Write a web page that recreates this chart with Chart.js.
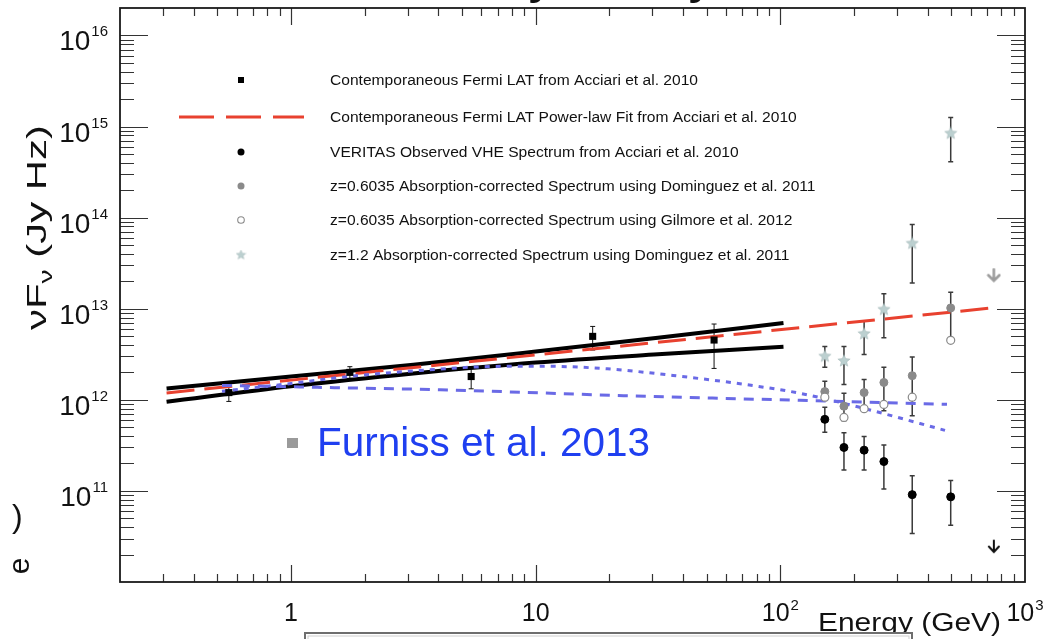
<!DOCTYPE html>
<html><head><meta charset="utf-8">
<script src="https://cdn.jsdelivr.net/npm/chart.js@4.4.1/dist/chart.umd.min.js"></script>
<style>html,body{margin:0;padding:0;background:#fff;overflow:hidden}canvas{display:block}</style>
</head><body><canvas id="c" width="1047" height="639"></canvas>
<script>
// ---------------- data ----------------
const fermiE  = [0.557, 1.74, 5.45, 17.1, 53.6];
const fermiF  = [1.20e12, 2.00e12, 1.80e12, 4.97e12, 4.53e12];
const fermiLo = [9.6e11, 1.72e12, 1.32e12, 3.52e12, 2.21e12];
const fermiHi = [1.46e12, 2.31e12, 2.28e12, 6.39e12, 6.79e12];

const fitE = [0.31, 730];
const fitF = [1.19e12, 1.02e13];

const bowE   = [0.31, 1, 3.16, 10, 31.6, 103];
const bowUpF = [1.33e12, 1.80e12, 2.43e12, 3.39e12, 4.79e12, 6.97e12];
const bowLoF = [9.51e11, 1.41e12, 1.95e12, 2.57e12, 3.16e12, 3.82e12];

const blueDotE = [0.522, 1, 1.74, 3.37, 5.92, 10.4, 19.6, 36.4, 68.4, 120, 211, 471];
const blueDotF = [1.24e12, 1.51e12, 1.81e12, 2.10e12, 2.30e12, 2.34e12, 2.19e12, 1.85e12, 1.50e12, 1.18e12, 8.27e11, 4.62e11];
const blueDashE = [0.522, 1, 1.74, 4.06, 20.7, 120, 480];
const blueDashF = [1.44e12, 1.39e12, 1.35e12, 1.29e12, 1.12e12, 9.86e11, 8.91e11];

const vheE = [152, 182, 220, 265, 346, 497];
const verF  = [6.1e11, 3.0e11, 2.8e11, 2.1e11, 9.1e10, 8.6e10];
const verLo = [4.4e11, 1.7e11, 1.7e11, 1.05e11, 3.4e10, 4.2e10];
const verHi = [8.3e11, 4.35e11, 3.95e11, 3.2e11, 1.47e11, 1.3e11];
const domF  = [1.23e12, 8.5e11, 1.2e12, 1.55e12, 1.84e12, 1.02e13];
const domLo = [9.8e11, 5.9e11, 8.0e11, 7.6e11, 6.7e11, 4.5e12];
const domHi = [1.6e12, 1.18e12, 1.67e12, 2.28e12, 2.95e12, 1.52e13];
const gilF  = [1.07e12, 6.4e11, 8.0e11, 8.9e11, 1.07e12, 4.5e12];
const z12F  = [3.0e12, 2.67e12, 5.3e12, 9.8e12, 5.2e13, 8.4e14];
const z12Lo = [2.28e12, 1.47e12, 3.15e12, 4.8e12, 1.92e13, 4.1e14];
const z12Hi = [3.85e12, 3.85e12, 7.3e12, 1.46e13, 8.4e13, 1.26e15];
const ulE = [746];
const ulVerF = [2.45e10];
const ulDomF = [2.33e13];

const yTickExps = [11, 12, 13, 14, 15, 16];
const xTickLabels = [{v:1, b:'1', e:''}, {v:10, b:'10', e:''}, {v:100, b:'10', e:'2'}, {v:1000, b:'10', e:'3'}];
const legendRows = [
  'Contemporaneous Fermi LAT from Acciari et al. 2010',
  'Contemporaneous Fermi LAT Power-law Fit from Acciari et al. 2010',
  'VERITAS Observed VHE Spectrum from Acciari et al. 2010',
  'z=0.6035 Absorption-corrected Spectrum using Dominguez et al. 2011',
  'z=0.6035 Absorption-corrected Spectrum using Gilmore et al. 2012',
  'z=1.2 Absorption-corrected Spectrum using Dominguez et al. 2011'
];

// ---------------- styles ----------------
const FONT = '"Liberation Sans", Arial, Helvetica, sans-serif';
const RED = '#e8412f', BLUE = '#6a6ae6', GRAY = '#8a8a8a', STAR = '#bcd0d0';

function pts(xs, ys){ return xs.map((x,i)=>({x:x, y:ys[i]})); }

function makeStar(size, color){
  const c = document.createElement('canvas'); c.width = size; c.height = size;
  const g = c.getContext('2d'); const r = size/2, ri = r*0.42;
  g.beginPath();
  for(let k=0;k<10;k++){
    const a = -Math.PI/2 + k*Math.PI/5, rr = (k%2===0)? r-0.5 : ri;
    g.lineTo(r + rr*Math.cos(a), r + rr*Math.sin(a));
  }
  g.closePath(); g.fillStyle = color; g.fill();
  g.strokeStyle = 'rgba(150,170,170,0.6)'; g.lineWidth = 0.6; g.stroke();
  return c;
}
function makeArrow(w, h, color, lw){
  const c = document.createElement('canvas'); c.width = w; c.height = h;
  const g = c.getContext('2d'); g.strokeStyle = color; g.lineWidth = lw; g.lineCap = 'round';
  g.beginPath(); g.moveTo(w/2, 1.5); g.lineTo(w/2, h-2);
  g.moveTo(2, h*0.5); g.lineTo(w/2, h-2); g.lineTo(w-2, h*0.5); g.stroke();
  return c;
}
const starImg = makeStar(14, STAR);
const arrowBlack = makeArrow(14, 15, '#111', 2);
const arrowGray = makeArrow(15, 15, '#9c9c9c', 2.6);

// ---------------- plugins ----------------
const errPlugin = {
  id: 'errbars',
  beforeDatasetsDraw(chart){
    const ctx = chart.ctx, xs = chart.scales.x, ys = chart.scales.y;
    chart.data.datasets.forEach(ds => {
      if(!ds.errLo) return;
      ctx.save(); ctx.strokeStyle = ds.errColor; ctx.lineWidth = ds.errWidth;
      ds.data.forEach((p,i) => {
        const px = xs.getPixelForValue(p.x);
        const y1 = ys.getPixelForValue(ds.errLo[i]), y2 = ys.getPixelForValue(ds.errHi[i]);
        ctx.beginPath();
        ctx.moveTo(px, y1); ctx.lineTo(px, y2);
        ctx.moveTo(px-ds.capW, y1); ctx.lineTo(px+ds.capW, y1);
        ctx.moveTo(px-ds.capW, y2); ctx.lineTo(px+ds.capW, y2);
        ctx.stroke();
      });
      ctx.restore();
    });
  }
};

function fitText(ctx, txt, x, y, font, color, width, align){
  ctx.save(); ctx.font = font; ctx.fillStyle = color; ctx.textBaseline = 'alphabetic';
  const w = ctx.measureText(txt).width; const s = width ? width / w : 1;
  let x0 = x; if(align === 'center') x0 = x - w*s/2; else if(align === 'right') x0 = x - w*s;
  ctx.translate(x0, y); ctx.scale(s, 1); ctx.textAlign = 'left'; ctx.fillText(txt, 0, 0); ctx.restore();
}
function powLabel(ctx, b, e, x, y, bs, es, raise, align){
  ctx.save(); ctx.fillStyle = '#111'; ctx.textBaseline = 'alphabetic'; ctx.textAlign = 'left';
  ctx.font = bs + 'px ' + FONT; const wb = ctx.measureText(b).width;
  ctx.font = es + 'px ' + FONT; const we = e ? ctx.measureText(e).width + 1 : 0;
  const tot = wb + we;
  let x0 = align === 'right' ? x - tot : x - tot/2;
  ctx.font = bs + 'px ' + FONT; ctx.fillText(b, x0, y);
  if(e){ ctx.font = es + 'px ' + FONT; ctx.fillText(e, x0 + wb + 1, y - raise); }
  ctx.restore();
}

const framePlugin = {
  id: 'frame',
  afterDraw(chart){
    const ctx = chart.ctx, xs = chart.scales.x, ys = chart.scales.y;
    const {left, right, top, bottom} = chart.chartArea;
    ctx.save();
    ctx.strokeStyle = '#333'; ctx.lineWidth = 1.2;
    ctx.beginPath();
    for(let d=10; d<=16; d++){
      for(let m=1; m<=9; m++){
        const v = m*Math.pow(10,d);
        if(v <= 1e10 || v >= 2e16) continue;
        const py = Math.round(ys.getPixelForValue(v)) + 0.5;
        const len = m===1 ? 28 : 14;
        ctx.moveTo(left, py); ctx.lineTo(left+len, py);
        ctx.moveTo(right, py); ctx.lineTo(right-len, py);
      }
    }
    for(let d=-1; d<=3; d++){
      for(let m=1; m<=9; m++){
        const v = m*Math.pow(10,d);
        if(v <= 0.2 || v >= 1000) continue;
        const px = Math.round(xs.getPixelForValue(v)) + 0.5;
        const len = m===1 ? 17 : 8;
        ctx.moveTo(px, bottom); ctx.lineTo(px, bottom-len);
        ctx.moveTo(px, top); ctx.lineTo(px, top+len);
      }
    }
    ctx.stroke();
    ctx.strokeStyle = '#1a1a1a'; ctx.lineWidth = 1.8;
    ctx.strokeRect(left, top, right-left, bottom-top);
    ctx.restore();

    yTickExps.forEach(d => {
      const py = ys.getPixelForValue(Math.pow(10,d));
      powLabel(ctx, '10', String(d), left-12, py+15, 28, 15, 14, 'right');
    });
    xTickLabels.forEach(t => {
      const px = xs.getPixelForValue(t.v);
      powLabel(ctx, t.b, t.e, px, 621, 25, 15, 11, 'center');
    });

    fitText(ctx, 'Energy (GeV)', 818, 631, '25px ' + FONT, '#111', 183, 'left');
    ctx.save();
    ctx.translate(46, 330); ctx.rotate(-Math.PI/2);
    ctx.fillStyle = '#111'; ctx.textBaseline = 'alphabetic';
    ctx.font = '27px ' + FONT; const w1 = ctx.measureText('\u03BDF').width;
    ctx.font = '18px ' + FONT; const w2 = ctx.measureText('\u03BD').width;
    ctx.font = '27px ' + FONT; const w3 = ctx.measureText(' (Jy Hz)').width;
    const sc = 205 / (w1 + w2 + w3);
    ctx.scale(sc, 1);
    ctx.font = '27px ' + FONT; ctx.fillText('\u03BDF', 0, 0);
    ctx.font = '18px ' + FONT; ctx.fillText('\u03BD', w1, 6);
    ctx.font = '27px ' + FONT; ctx.fillText(' (Jy Hz)', w1 + w2, 0);
    ctx.restore();

    ctx.save();
    ctx.font = '14px ' + FONT;
    const sx = 368 / ctx.measureText(legendRows[0]).width;
    const rowY = [80, 117, 152, 186, 220, 255];
    legendRows.forEach((t,i) => fitText(ctx, t, 330, rowY[i] + 5, '14px ' + FONT, '#111', ctx.measureText(t).width * sx, 'left'));
    const lx = 241;
    ctx.fillStyle = '#000'; ctx.fillRect(lx-3, rowY[0]-3, 6, 6);
    ctx.strokeStyle = RED; ctx.lineWidth = 3; ctx.setLineDash([35, 12]);
    ctx.beginPath(); ctx.moveTo(179, rowY[1]); ctx.lineTo(304, rowY[1]); ctx.stroke(); ctx.setLineDash([]);
    ctx.fillStyle = '#000'; ctx.beginPath(); ctx.arc(lx, rowY[2], 3.5, 0, 2*Math.PI); ctx.fill();
    ctx.fillStyle = GRAY; ctx.beginPath(); ctx.arc(lx, rowY[3], 3.5, 0, 2*Math.PI); ctx.fill();
    ctx.strokeStyle = GRAY; ctx.lineWidth = 1.1; ctx.beginPath(); ctx.arc(lx, rowY[4], 3.3, 0, 2*Math.PI); ctx.stroke();
    ctx.drawImage(makeStar(11, STAR), lx-5.5, rowY[5]-5.5);
    ctx.restore();

    ctx.save();
    ctx.fillStyle = '#9a9a9a'; ctx.fillRect(287, 438, 11, 10);
    fitText(ctx, 'Furniss et al. 2013', 317, 456, '40px ' + FONT, '#1f3ff0', 333, 'left');
    ctx.fillStyle = '#111'; ctx.font = '32px ' + FONT; ctx.fillText(')', 12, 527);
    ctx.translate(19, 566); ctx.rotate(-Math.PI/2); ctx.font = '30px ' + FONT; ctx.textAlign = 'center'; ctx.fillText('e', 0, 10);
    ctx.restore();
    ctx.save();
    ctx.fillStyle = '#111'; ctx.font = 'bold 44px ' + FONT;
    ctx.fillText('y', 528, -6); ctx.fillText('y', 688, -6);
    ctx.fillStyle = '#fff'; ctx.fillRect(305, 633, 607, 20);
    ctx.strokeStyle = '#6e6e6e'; ctx.lineWidth = 2; ctx.strokeRect(305, 633, 607, 20);
    ctx.strokeStyle = '#cfcfcf'; ctx.lineWidth = 1; ctx.strokeRect(308, 636, 601, 20);
    ctx.restore();
  }
};

// ---------------- chart ----------------
const datasets = [
  {label:'UL VERITAS', data:pts(ulE, ulVerF), pointStyle:arrowBlack, pointRadius:7, order:0},
  {label:'UL Dominguez', data:pts(ulE, ulDomF), pointStyle:arrowGray, pointRadius:7, order:0},
  {label:'z=1.2 Dominguez', data:pts(vheE, z12F), pointStyle:starImg, pointRadius:7, order:1,
   errLo:z12Lo, errHi:z12Hi, errColor:'#3a3a3a', errWidth:1.5, capW:2.5},
  {label:'Gilmore', data:pts(vheE, gilF), pointStyle:'circle', pointRadius:4, borderWidth:1.2,
   borderColor:GRAY, backgroundColor:'#fff', order:2},
  {label:'Dominguez', data:pts(vheE, domF), pointStyle:'circle', pointRadius:4, borderWidth:1,
   borderColor:GRAY, backgroundColor:GRAY, order:3,
   errLo:domLo, errHi:domHi, errColor:'#3a3a3a', errWidth:1.5, capW:2.5},
  {label:'VERITAS', data:pts(vheE, verF), pointStyle:'circle', pointRadius:4, borderWidth:1,
   borderColor:'#000', backgroundColor:'#000', order:4,
   errLo:verLo, errHi:verHi, errColor:'#3a3a3a', errWidth:1.5, capW:2.5},
  {label:'Fermi LAT', data:pts(fermiE, fermiF), pointStyle:'rect', pointRadius:5, borderWidth:0,
   backgroundColor:'#000', borderColor:'#000', order:5,
   errLo:fermiLo, errHi:fermiHi, errColor:'#111', errWidth:1, capW:2.5},
  {label:'Blue dotted', data:pts(blueDotE, blueDotF), showLine:true, pointRadius:0, borderColor:BLUE,
   borderWidth:3, borderDash:[5,6], cubicInterpolationMode:'monotone', order:6},
  {label:'Blue dashed', data:pts(blueDashE, blueDashF), showLine:true, pointRadius:0, borderColor:BLUE,
   borderWidth:3, borderDash:[10,8], cubicInterpolationMode:'monotone', order:7},
  {label:'Power-law fit', data:pts(fitE, fitF), showLine:true, pointRadius:0, borderColor:RED,
   borderWidth:3, borderDash:[28,10], order:8},
  {label:'Bowtie upper', data:pts(bowE, bowUpF), showLine:true, pointRadius:0, borderColor:'#000',
   borderWidth:4, cubicInterpolationMode:'monotone', order:9},
  {label:'Bowtie lower', data:pts(bowE, bowLoF), showLine:true, pointRadius:0, borderColor:'#000',
   borderWidth:4, cubicInterpolationMode:'monotone', order:10}
];

new Chart(document.getElementById('c'), {
  type: 'scatter',
  data: {datasets},
  options: {
    responsive: false, animation: false, devicePixelRatio: 1,
    layout: {padding: {left:120, right:22, top:7, bottom:57}},
    plugins: {legend:{display:false}, tooltip:{enabled:false}},
    scales: {
      x: {type:'logarithmic', min:0.2, max:1000, display:false},
      y: {type:'logarithmic', min:1e10, max:2e16, display:false}
    }
  },
  plugins: [errPlugin, framePlugin]
});
</script>
</body></html>
